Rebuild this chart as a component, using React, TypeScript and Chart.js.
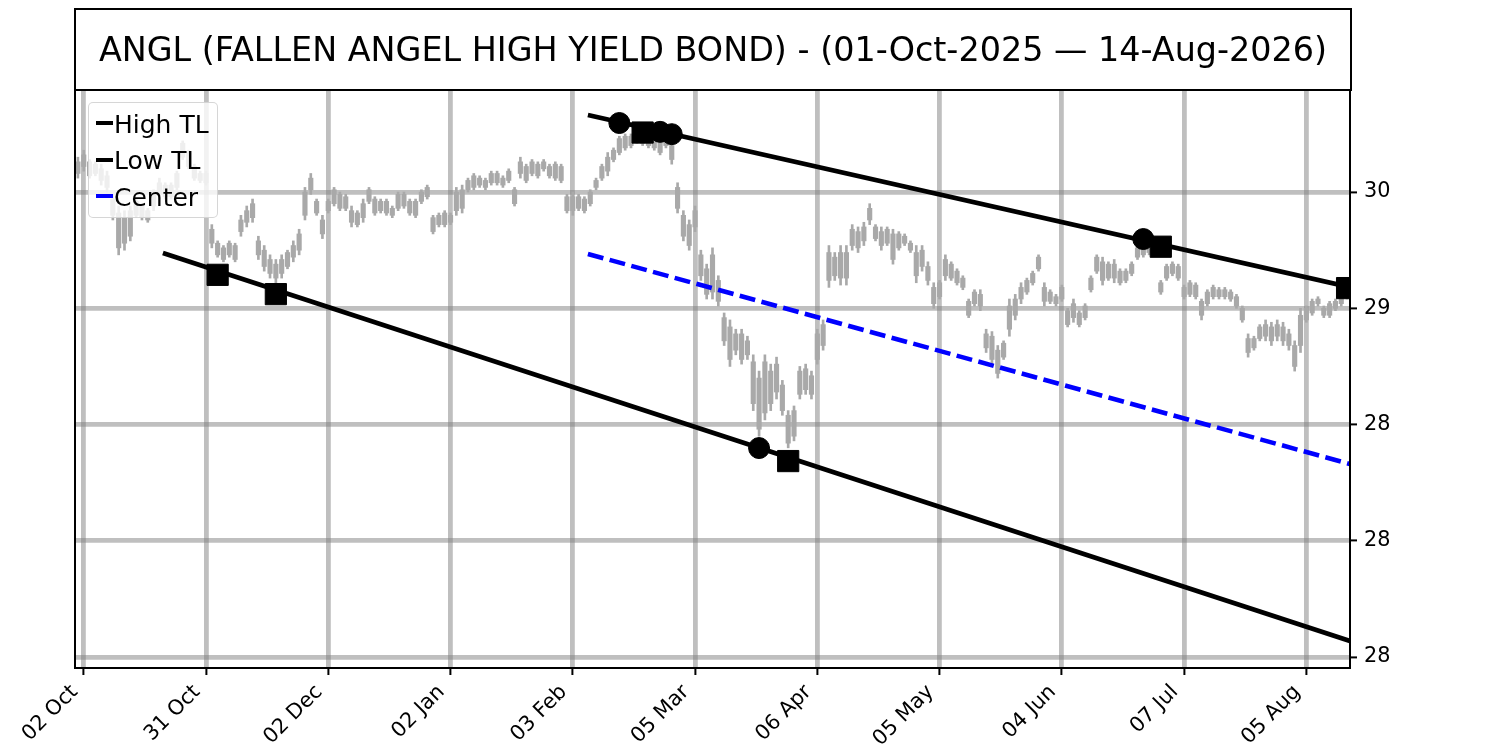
import { useEffect, useRef } from "react"
import { Chart, registerables } from "chart.js"

Chart.register(...registerables)

// x is the bar index (trading day), 01-Oct-2025 = 0
const xTickIndex = [1, 22, 43, 64, 85, 106, 127, 148, 169, 190, 211]
const xTickLabels = ["02 Oct", "31 Oct", "02 Dec", "02 Jan", "03 Feb", "05 Mar", "06 Apr", "05 May", "04 Jun", "07 Jul", "05 Aug"]

const yTickValues = [27.5, 28, 28.5, 29, 29.5]
const yTickLabels = ["28", "28", "28", "29", "30"]

const opens = [
  29.58, 29.61, 29.63, 29.58, 29.60, 29.57, 29.47, 29.41, 29.28, 29.31,
  29.40, 29.44, 29.42, 29.44, 29.49, 29.53, 29.48, 29.52, 29.65, 29.67,
  29.61, 29.58, 29.54, 29.34, 29.28, 29.26, 29.23, 29.27, 29.33, 29.37,
  29.39, 29.29, 29.25, 29.21, 29.19, 29.15, 29.18, 29.22, 29.25, 29.40,
  29.51, 29.46, 29.38, 29.42, 29.45, 29.49, 29.48, 29.42, 29.41, 29.39,
  29.46, 29.47, 29.42, 29.46, 29.43, 29.43, 29.44, 29.46, 29.46, 29.46,
  29.48, 29.39, 29.36, 29.36, 29.40, 29.42, 29.43, 29.51, 29.52, 29.56,
  29.55, 29.54, 29.54, 29.56, 29.55, 29.51, 29.58, 29.61, 29.58, 29.62,
  29.60, 29.61, 29.56, 29.61, 29.48, 29.42, 29.48, 29.47, 29.45, 29.52,
  29.56, 29.59, 29.64, 29.67, 29.69, 29.74, 29.72, 29.76, 29.76, 29.74,
  29.72, 29.70, 29.70, 29.52, 29.40, 29.36, 29.35, 29.23, 29.17, 29.07,
  29.12, 28.96, 28.92, 28.82, 28.89, 28.80, 28.77, 28.70, 28.55, 28.73,
  28.64, 28.67, 28.54, 28.45, 28.63, 28.65, 28.71, 28.78, 28.84, 29.12,
  29.22, 29.13, 29.24, 29.27, 29.33, 29.29, 29.38, 29.35, 29.33, 29.28,
  29.32, 29.26, 29.31, 29.28, 29.24, 29.18, 29.18, 29.09, 29.05, 29.14,
  29.19, 29.16, 29.13, 29.03, 29.02, 29.06, 28.89, 28.88, 28.82, 28.79,
  28.91, 28.97, 29.04, 29.07, 29.11, 29.17, 29.09, 29.07, 29.05, 29.04,
  28.99, 28.96, 28.98, 28.96, 29.08, 29.16, 29.20, 29.13, 29.19, 29.16,
  29.12, 29.15, 29.22, 29.26, 29.24, 29.26, 29.11, 29.13, 29.15, 29.18,
  29.09, 29.06, 29.10, 29.03, 29.02, 29.05, 29.08, 29.05, 29.07, 29.05,
  29.00, 28.87, 28.83, 28.87, 28.88, 28.92, 28.88, 28.92, 28.89, 28.84,
  28.84, 28.95, 28.98, 29.02, 29.00, 28.97, 29.00, 29.02, 29.05,
]

const highs = [
  29.65, 29.68, 29.64, 29.63, 29.62, 29.59, 29.49, 29.44, 29.42, 29.44,
  29.47, 29.45, 29.43, 29.51, 29.56, 29.54, 29.54, 29.59, 29.72, 29.68,
  29.62, 29.59, 29.59, 29.36, 29.29, 29.27, 29.29, 29.28, 29.40, 29.44,
  29.47, 29.31, 29.27, 29.23, 29.21, 29.23, 29.25, 29.29, 29.34, 29.52,
  29.58, 29.47, 29.40, 29.47, 29.52, 29.50, 29.49, 29.44, 29.42, 29.47,
  29.52, 29.48, 29.47, 29.47, 29.44, 29.50, 29.50, 29.47, 29.47, 29.51,
  29.53, 29.40, 29.41, 29.42, 29.41, 29.52, 29.53, 29.56, 29.58, 29.57,
  29.56, 29.59, 29.59, 29.57, 29.60, 29.52, 29.65, 29.62, 29.64, 29.63,
  29.64, 29.62, 29.63, 29.62, 29.49, 29.50, 29.49, 29.48, 29.51, 29.56,
  29.62, 29.67, 29.69, 29.74, 29.75, 29.75, 29.77, 29.77, 29.77, 29.75,
  29.73, 29.76, 29.72, 29.54, 29.42, 29.38, 29.44, 29.25, 29.19, 29.26,
  29.14, 28.98, 28.95, 28.91, 28.91, 28.88, 28.80, 28.73, 28.80, 28.76,
  28.79, 28.69, 28.56, 28.58, 28.75, 28.76, 28.73, 28.91, 28.95, 29.27,
  29.24, 29.27, 29.27, 29.36, 29.35, 29.37, 29.45, 29.36, 29.35, 29.35,
  29.34, 29.33, 29.32, 29.29, 29.27, 29.27, 29.20, 29.11, 29.12, 29.23,
  29.20, 29.17, 29.14, 29.04, 29.08, 29.08, 28.91, 28.90, 28.84, 28.86,
  29.04, 29.06, 29.11, 29.13, 29.16, 29.23, 29.11, 29.08, 29.06, 29.10,
  29.00, 29.04, 28.99, 29.02, 29.14, 29.23, 29.22, 29.20, 29.21, 29.17,
  29.17, 29.20, 29.27, 29.27, 29.29, 29.30, 29.12, 29.19, 29.20, 29.19,
  29.10, 29.12, 29.11, 29.04, 29.08, 29.10, 29.09, 29.09, 29.08, 29.06,
  29.01, 28.89, 28.88, 28.93, 28.95, 28.94, 28.95, 28.94, 28.91, 28.86,
  29.00, 29.01, 29.04, 29.05, 29.01, 29.03, 29.04, 29.06, 29.08,
]

const lows = [
  29.56, 29.59, 29.56, 29.57, 29.53, 29.50, 29.38, 29.23, 29.25, 29.29,
  29.39, 29.38, 29.37, 29.42, 29.47, 29.47, 29.47, 29.51, 29.64, 29.60,
  29.55, 29.54, 29.53, 29.26, 29.22, 29.20, 29.22, 29.20, 29.31, 29.35,
  29.37, 29.21, 29.16, 29.13, 29.11, 29.13, 29.17, 29.20, 29.23, 29.38,
  29.49, 29.40, 29.30, 29.41, 29.44, 29.42, 29.42, 29.35, 29.35, 29.37,
  29.45, 29.40, 29.41, 29.40, 29.39, 29.42, 29.43, 29.40, 29.39, 29.45,
  29.47, 29.32, 29.35, 29.35, 29.36, 29.40, 29.41, 29.50, 29.51, 29.52,
  29.51, 29.53, 29.53, 29.52, 29.54, 29.44, 29.56, 29.54, 29.57, 29.56,
  29.59, 29.56, 29.55, 29.54, 29.41, 29.40, 29.42, 29.41, 29.44, 29.51,
  29.55, 29.57, 29.63, 29.66, 29.68, 29.69, 29.71, 29.70, 29.69, 29.68,
  29.66, 29.69, 29.62, 29.41, 29.29, 29.25, 29.33, 29.12, 29.04, 29.04,
  29.01, 28.84, 28.75, 28.80, 28.76, 28.78, 28.56, 28.45, 28.52, 28.56,
  28.61, 28.54, 28.40, 28.43, 28.61, 28.63, 28.61, 28.76, 28.82, 29.09,
  29.12, 29.10, 29.10, 29.25, 29.24, 29.27, 29.36, 29.29, 29.25, 29.27,
  29.19, 29.25, 29.27, 29.24, 29.11, 29.16, 29.10, 29.00, 29.04, 29.12,
  29.12, 29.10, 29.08, 28.96, 29.01, 28.99, 28.81, 28.76, 28.70, 28.78,
  28.88, 28.95, 29.02, 29.06, 29.10, 29.16, 29.01, 29.02, 29.01, 29.03,
  28.92, 28.94, 28.92, 28.95, 29.07, 29.15, 29.10, 29.12, 29.11, 29.10,
  29.11, 29.14, 29.21, 29.22, 29.23, 29.25, 29.06, 29.12, 29.14, 29.12,
  29.04, 29.05, 29.04, 28.95, 29.01, 29.04, 29.04, 29.04, 29.03, 29.00,
  28.94, 28.79, 28.82, 28.86, 28.86, 28.84, 28.86, 28.84, 28.82, 28.73,
  28.81, 28.94, 28.97, 29.01, 28.96, 28.96, 28.99, 29.01, 29.04,
]

const closes = [
  29.63, 29.66, 29.57, 29.62, 29.55, 29.52, 29.40, 29.26, 29.39, 29.42,
  29.46, 29.39, 29.38, 29.49, 29.54, 29.48, 29.53, 29.58, 29.71, 29.61,
  29.56, 29.55, 29.58, 29.28, 29.23, 29.21, 29.28, 29.21, 29.38, 29.42,
  29.45, 29.23, 29.18, 29.15, 29.13, 29.21, 29.24, 29.27, 29.32, 29.50,
  29.56, 29.41, 29.32, 29.46, 29.51, 29.43, 29.43, 29.37, 29.36, 29.45,
  29.51, 29.41, 29.46, 29.41, 29.40, 29.49, 29.49, 29.41, 29.40, 29.50,
  29.52, 29.33, 29.40, 29.41, 29.37, 29.50, 29.51, 29.55, 29.57, 29.53,
  29.52, 29.58, 29.58, 29.53, 29.59, 29.45, 29.63, 29.55, 29.63, 29.57,
  29.63, 29.57, 29.62, 29.55, 29.42, 29.48, 29.43, 29.42, 29.50, 29.55,
  29.61, 29.65, 29.68, 29.73, 29.74, 29.70, 29.76, 29.71, 29.70, 29.69,
  29.67, 29.75, 29.64, 29.43, 29.31, 29.27, 29.42, 29.14, 29.06, 29.23,
  29.03, 28.86, 28.78, 28.89, 28.78, 28.86, 28.59, 28.48, 28.77, 28.59,
  28.76, 28.56, 28.42, 28.56, 28.73, 28.74, 28.63, 28.89, 28.93, 29.24,
  29.14, 29.24, 29.13, 29.34, 29.26, 29.35, 29.43, 29.30, 29.27, 29.34,
  29.21, 29.32, 29.28, 29.25, 29.14, 29.25, 29.12, 29.02, 29.11, 29.21,
  29.13, 29.11, 29.09, 28.97, 29.07, 29.01, 28.83, 28.78, 28.72, 28.85,
  29.01, 29.04, 29.09, 29.12, 29.15, 29.22, 29.03, 29.03, 29.02, 29.09,
  28.93, 29.02, 28.93, 29.01, 29.13, 29.22, 29.12, 29.19, 29.13, 29.11,
  29.16, 29.19, 29.26, 29.23, 29.28, 29.29, 29.07, 29.18, 29.19, 29.13,
  29.05, 29.11, 29.05, 28.97, 29.07, 29.09, 29.05, 29.08, 29.04, 29.01,
  28.95, 28.81, 28.87, 28.92, 28.93, 28.86, 28.93, 28.86, 28.84, 28.75,
  28.97, 29.00, 29.03, 29.04, 28.97, 29.02, 29.03, 29.05, 29.07,
]

// trend lines: start and end points (bar index, price)
const highTL = [{ x: 87.6, y: 29.831 }, { x: 218.5, y: 29.091 }]
const lowTL = [{ x: 14.6, y: 29.238 }, { x: 218.5, y: 27.569 }]
const centerTL = [{ x: 87.6, y: 29.234 }, { x: 218.5, y: 28.33 }]

// touch markers
const circleIdx = [93, 100, 102, 183, 117]
const circleVals = [29.797, 29.759, 29.749, 29.298, 28.399]
const squareIdx = [97, 186, 218, 24, 34, 122]
const squareVals = [29.756, 29.265, 29.087, 29.144, 29.061, 28.343]

const legendLabels = ["High TL", "Low TL", "Center"]
const legendColors = ["#000000", "#000000", "#0000ff"]

const CANDLE = "#a9a9a9"
const GRID = "rgba(128,128,128,0.5)"
const FONT = "DejaVu Sans"
const TICK_SIZE = 20.8

Chart.defaults.font.family = FONT

const spines = {
  id: "spines",
  afterDraw(chart: Chart) {
    const { ctx, chartArea: a } = chart
    ctx.save()
    ctx.strokeStyle = "#000"
    ctx.lineWidth = 2
    ctx.strokeRect(a.left, a.top, a.right - a.left, a.bottom - a.top)
    ctx.restore()
  },
}

export default function App() {
  const canvasRef = useRef<HTMLCanvasElement>(null)
  const chartRef = useRef<Chart | null>(null)

  useEffect(() => {
    if (!canvasRef.current) return
    if (chartRef.current) chartRef.current.destroy()

    const wicks = highs.map((h, i) => ({ x: i, y: [lows[i], h] }))
    const bodies = opens.map((o, i) => ({
      x: i,
      y: [Math.min(o, closes[i]), Math.max(o, closes[i])],
    }))
    const circles = circleIdx.map((x, i) => ({ x, y: circleVals[i] }))
    const squares = squareIdx.map((x, i) => ({ x, y: squareVals[i] }))

    chartRef.current = new Chart(canvasRef.current, {
      type: "bar",
      data: {
        datasets: [
          { type: "bar", label: "wick", data: wicks as any, backgroundColor: CANDLE, barThickness: 2, grouped: false, order: 10 },
          { type: "bar", label: "body", data: bodies as any, backgroundColor: CANDLE, barThickness: 4.5, grouped: false, order: 9 },
          { type: "line", label: "High TL", data: highTL, borderColor: "#000", borderWidth: 4.6, pointRadius: 0, order: 5, clip: 0 },
          { type: "line", label: "Low TL", data: lowTL, borderColor: "#000", borderWidth: 4.6, pointRadius: 0, order: 5, clip: 0 },
          { type: "line", label: "Center", data: centerTL, borderColor: "#0000ff", borderWidth: 4.6, borderDash: [16, 6.5], pointRadius: 0, order: 5, clip: 0 },
          { type: "scatter", label: "touch", data: circles, pointStyle: "circle", pointRadius: 10.5, backgroundColor: "#000", borderColor: "#000", order: 1, clip: 0 },
          { type: "scatter", label: "close", data: squares, pointStyle: "rect", pointRadius: 15, backgroundColor: "#000", borderColor: "#000", order: 1, clip: 0 },
        ] as any,
      },
      options: {
        animation: false,
        responsive: true,
        maintainAspectRatio: false,
        events: [],
        layout: { padding: { left: 75, top: 90, right: 0, bottom: 0 } },
        plugins: { legend: { display: false }, tooltip: { enabled: false } },
        scales: {
          x: {
            type: "linear",
            offset: false,
            min: -0.5,
            max: 218.5,
            afterBuildTicks: (scale: any) => {
              scale.ticks = xTickIndex.map((v) => ({ value: v }))
            },
            afterFit: (scale: any) => {
              scale.height = 82
            },
            ticks: {
              autoSkip: false,
              minRotation: 45,
              maxRotation: 45,
              padding: 5,
              labelOffset: -9,
              color: "#000",
              font: { size: TICK_SIZE, family: FONT },
              callback: (v: any) => xTickLabels[xTickIndex.indexOf(Number(v))] ?? "",
            },
            grid: { offset: false, color: GRID, lineWidth: 4.8, tickColor: "#000", tickWidth: 2, tickLength: 7 },
            border: { display: false },
          },
          y: {
            type: "linear",
            position: "right",
            min: 27.453,
            max: 29.939,
            afterBuildTicks: (scale: any) => {
              scale.ticks = yTickValues.map((v) => ({ value: v }))
            },
            afterFit: (scale: any) => {
              scale.width = 150
            },
            ticks: {
              padding: 7,
              color: "#000",
              font: { size: TICK_SIZE, family: FONT },
              callback: (v: any) => yTickLabels[yTickValues.indexOf(Number(v))] ?? "",
            },
            grid: { color: GRID, lineWidth: 4.8, tickColor: "#000", tickWidth: 2, tickLength: 7 },
            border: { display: false },
          },
        },
      },
      plugins: [spines],
    })

    return () => {
      if (chartRef.current) {
        chartRef.current.destroy()
        chartRef.current = null
      }
    }
  }, [])

  return (
    <div style={{ position: "absolute", left: 0, top: 0, width: 1500, height: 750, background: "#fff", fontFamily: FONT }}>
      <canvas ref={canvasRef} />
      <div
        style={{
          position: "absolute",
          left: 74,
          top: 8,
          width: 1278,
          height: 83,
          boxSizing: "border-box",
          border: "2px solid #000",
          display: "flex",
          alignItems: "center",
          justifyContent: "center",
          fontSize: 33.4,
          color: "#000",
          whiteSpace: "nowrap",
        }}
      >
        ANGL (FALLEN ANGEL HIGH YIELD BOND) - (01-Oct-2025 — 14-Aug-2026)
      </div>
      <div
        style={{
          position: "absolute",
          left: 88,
          top: 102,
          width: 130,
          height: 116,
          boxSizing: "border-box",
          border: "1px solid rgba(204,204,204,0.8)",
          borderRadius: 5,
          background: "rgba(255,255,255,0.8)",
        }}
      >
        {legendLabels.map((label, k) => (
          <div key={label}>
            <div
              style={{
                position: "absolute",
                left: 7,
                top: [18, 55, 91][k],
                width: 17,
                height: 4,
                background: legendColors[k],
              }}
            />
            <div
              style={{
                position: "absolute",
                left: 25,
                top: 6.5 + k * 36.5,
                fontSize: 25,
                lineHeight: "29px",
                color: "#000",
                whiteSpace: "nowrap",
              }}
            >
              {label}
            </div>
          </div>
        ))}
      </div>
    </div>
  )
}
